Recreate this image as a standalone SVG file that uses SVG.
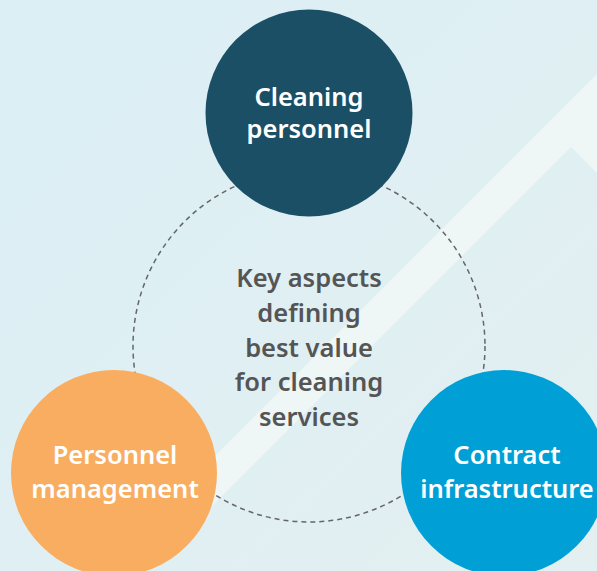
<svg xmlns="http://www.w3.org/2000/svg" width="597" height="571" viewBox="0 0 597 571">
  <defs>
    <linearGradient id="bg" x1="0" y1="0" x2="1" y2="1">
      <stop offset="0" stop-color="#dbeff5"/>
      <stop offset="1" stop-color="#e4eff1"/>
    </linearGradient>
  </defs>
  <style>
    .lbl { font-family: "Noto Sans", "Open Sans", "Liberation Sans", sans-serif; font-weight: 600; font-size: 25.5px; text-anchor: middle; }
    .white { fill: #ffffff; }
    .gray { fill: #555555; }
    .ring { fill: none; stroke: #666666; stroke-width: 1.5; stroke-dasharray: 5 4; }
  </style>
  <rect x="0" y="0" width="597" height="571" fill="url(#bg)"/>
  <polygon id="band" points="51,620 98,620 571,147 660,236 660,11" fill="#eef6f6"/>
  <g id="connectors">
    <circle class="ring" cx="309" cy="346" r="176"/>
  </g>
  <g id="center-text">
    <text class="lbl gray" x="309" y="287">Key aspects</text>
    <text class="lbl gray" x="309" y="322">defining</text>
    <text class="lbl gray" x="309" y="357">best value</text>
    <text class="lbl gray" x="309" y="391">for cleaning</text>
    <text class="lbl gray" x="309" y="426">services</text>
  </g>
  <g id="cleaning-personnel">
    <circle cx="309" cy="113" r="103.5" fill="#1b4f66"/>
    <text class="lbl white" x="309" y="106">Cleaning</text>
    <text class="lbl white" x="309" y="138">personnel</text>
  </g>
  <g id="personnel-management">
    <circle cx="114" cy="473" r="103" fill="#f9ad60"/>
    <text class="lbl white" x="115" y="464">Personnel</text>
    <text class="lbl white" x="115" y="498">management</text>
  </g>
  <g id="contract-infrastructure">
    <circle cx="504" cy="473" r="103" fill="#00a0d6"/>
    <text class="lbl white" x="507" y="464">Contract</text>
    <text class="lbl white" x="507" y="498">infrastructure</text>
  </g>
</svg>
